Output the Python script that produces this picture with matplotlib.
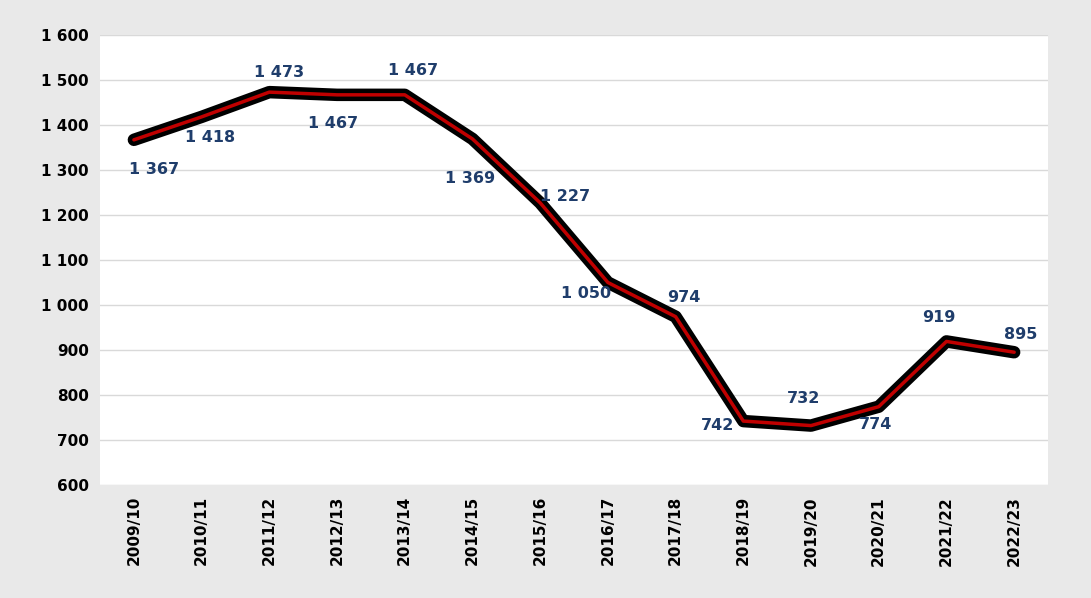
import matplotlib.pyplot as plt
from matplotlib.ticker import FuncFormatter

seasons = ["2009/10", "2010/11", "2011/12", "2012/13", "2013/14", "2014/15", "2015/16",
           "2016/17", "2017/18", "2018/19", "2019/20", "2020/21", "2021/22", "2022/23"]
values = [1367, 1418, 1473, 1467, 1467, 1369, 1227, 1050, 974, 742, 732, 774, 919, 895]
# label offsets in pixels (dx, dy)
offsets = [(20, -30), (8, -21), (10, 20), (-4, -29), (8, 24), (-2, -40), (25, 6),
           (-22, -11), (8, 19), (-26, -4), (-7, 27), (-3, -18), (-8, 24), (7, 18)]

fig = plt.figure(figsize=(10.91, 5.98), dpi=100, facecolor="#e9e9e9")
ax = fig.add_axes([0.0917, 0.189, 0.8689, 0.7525])
ax.set_facecolor("white")

x = range(len(seasons))
ax.plot(x, values, color="black", lw=9, solid_capstyle="round", solid_joinstyle="round", zorder=3)
ax.plot(x, values, color="#c00000", lw=2.5, solid_capstyle="round", solid_joinstyle="round", zorder=4)

for i, (v, (dx, dy)) in enumerate(zip(values, offsets)):
    ax.annotate(f"{v:,}".replace(",", " "), (i, v), xytext=(dx, dy), textcoords="offset pixels",
                ha="center", va="center", fontsize=11.5, fontweight="bold", color="#1f3d6b", zorder=5)

ax.set_ylim(600, 1600)
ax.set_yticks(range(600, 1601, 100))
ax.yaxis.set_major_formatter(FuncFormatter(lambda v, p: f"{int(v):,}".replace(",", " ")))
ax.set_xlim(-0.5, len(seasons) - 0.5)
ax.set_xticks(list(x))
ax.set_xticklabels(seasons, rotation=90)
ax.grid(axis="y", color="#d9d9d9", lw=1)
ax.set_axisbelow(True)
for s in ax.spines.values():
    s.set_visible(False)
ax.tick_params(length=0, labelsize=11, pad=8)
for lab in ax.get_xticklabels() + ax.get_yticklabels():
    lab.set_fontweight("bold")

fig.savefig("out.png", dpi=100, facecolor=fig.get_facecolor())
